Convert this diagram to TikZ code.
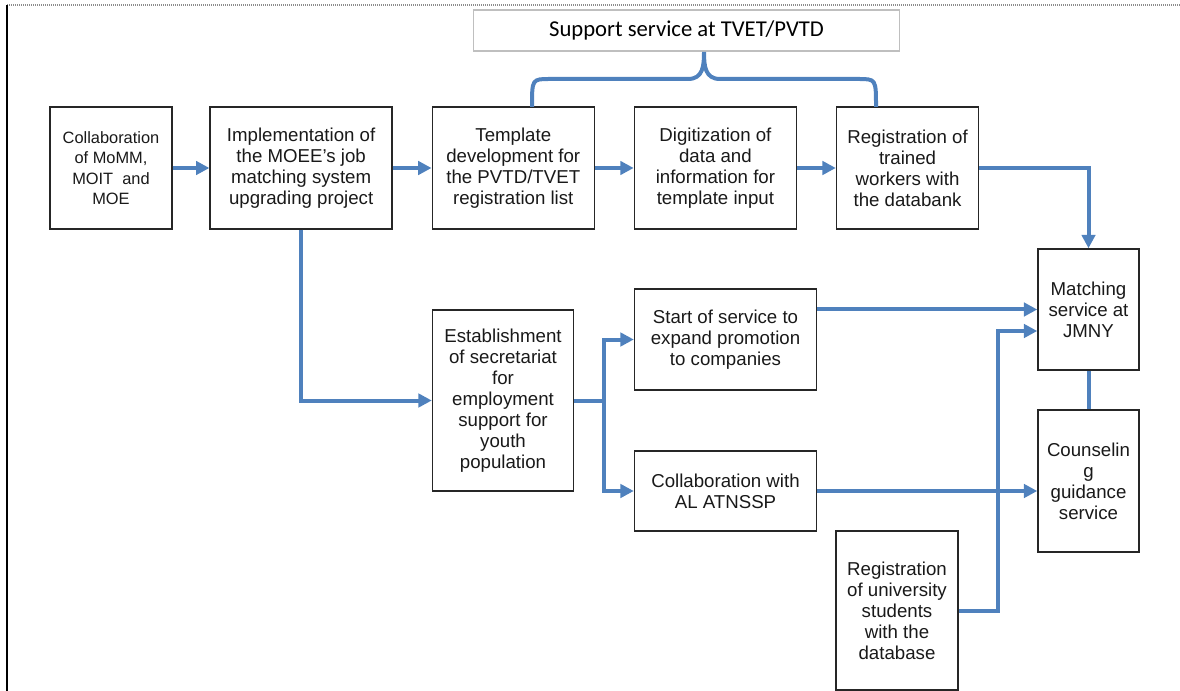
\documentclass[tikz,border=0pt]{standalone}
\usepackage{fontspec}
\setmainfont{Liberation Sans}
\newfontfamily\captionfont{Carlito}
\usepackage{xcolor}
\definecolor{flowblue}{HTML}{4F81BD}
\definecolor{boxline}{HTML}{262626}
\definecolor{frameline}{HTML}{BFBFBF}
\usepackage{tikz}
\usetikzlibrary{arrows.meta, positioning, calc}

\begin{document}
\begin{tikzpicture}[x=0.75pt, y=-0.75pt, node distance=29pt,
  >={Triangle[length=10pt, width=10pt]},
  box/.style={draw=boxline, line width=1.1pt, align=center, inner sep=1pt,
              text=black!90, font=\fontsize{14}{15.75}\selectfont},
  toprow/.style={box, minimum height=91.5pt},
  flow/.style={draw=flowblue, line width=3pt}]

  \useasboundingbox (0,0) rectangle (1180,691);

  % page frame
  \draw[black!45, line width=1.1pt, dash pattern=on 1pt off 0.5pt] (7,5) -- (1180,5);
  \draw[black, line width=1.9pt] (7,5) -- (7,691);

  % top row
  \node[toprow, minimum width=91.5pt, font=\fontsize{12.3}{15.4}\selectfont]
        (collab) at (111,168)
        {Collaboration\\of MoMM,\\MOIT\ \ and\\MOE};
  \node[toprow, minimum width=136.5pt, right=27.5pt of collab] (impl)
        {Implementation of\\the MOEE’s job\\matching system\\upgrading project};
  \node[toprow, minimum width=121.5pt, right=of impl] (templ)
        {Template\\development for\\the PVTD/TVET\\registration list};
  \node[toprow, minimum width=121.5pt, right=of templ] (digit)
        {Digitization of\\data and\\information for\\template input};
  \node[toprow, minimum width=106.5pt, right=of digit] (regtr)
        {Registration of\\trained\\workers with\\the databank};

  \node[draw=frameline, line width=0.9pt, minimum width=320pt, minimum height=30.75pt,
        font=\captionfont\fontsize{17}{20}\selectfont] (support) at (686.5,30.5)
        {Support service at TVET/PVTD};

  % middle and right column
  \node[box, minimum width=105.75pt, minimum height=135.75pt] (estab) at (503,400.5)
        {Establishment\\of secretariat\\for\\employment\\support for\\youth\\population};
  \node[box, minimum width=136.5pt, minimum height=75.75pt] (start) at (725.5,339.5)
        {Start of service to\\expand promotion\\to companies};
  \node[box, minimum width=136.5pt, minimum height=60pt] (colal) at (725.5,491)
        {Collaboration with\\AL ATNSSP};
  \node[box, minimum width=75.75pt, minimum height=90.75pt] (match) at (1088.5,309.5)
        {Matching\\service at\\JMNY};
  \node[box, minimum width=75.75pt, minimum height=106.5pt] (couns) at (1088.5,481)
        {Counselin\\g\\guidance\\service};
  \node[box, minimum width=91.5pt, minimum height=119.25pt] (univ) at (897,610.5)
        {Registration\\of university\\students\\with the\\database};

  % brace under the support box
  \coordinate (braceL) at (532,107);
  \coordinate (braceR) at (876,107);
  \coordinate (braceTip) at (704,52);
  \draw[flow] (braceL) .. controls (532,79) .. (550,79) -- (688,79)
    .. controls (703,79) and (704,66) .. (braceTip)
    .. controls (704,66) and (705,79) .. (720,79) -- (858,79)
    .. controls (876,79) .. (braceR);

  % connectors
  \draw[flow, ->] (collab.east) -- (impl.west);
  \draw[flow, ->] (impl.east) -- (templ.west);
  \draw[flow, ->] (templ.east) -- (digit.west);
  \draw[flow, ->] (digit.east) -- (regtr.west);
  \draw[flow, ->] (regtr.east) -| (match.north);
  \draw[flow, ->] (impl.south) |- (estab.west);
  \draw[flow] (estab.east) -- ++(30,0) coordinate (split);
  \draw[flow, ->] (split) |- (start.west);
  \draw[flow, ->] (split) |- (colal.west);
  \draw[flow, ->] (start.east |- match.west) -- (match.west);
  \draw[flow, ->] (colal.east) -- (colal.east -| couns.west);
  \coordinate (jog) at (998,331);
  \draw[flow, ->] (univ.east) -| (jog) -- (jog -| match.west);
  \draw[flow] (match.south) -- (couns.north);

\end{tikzpicture}
\end{document}
